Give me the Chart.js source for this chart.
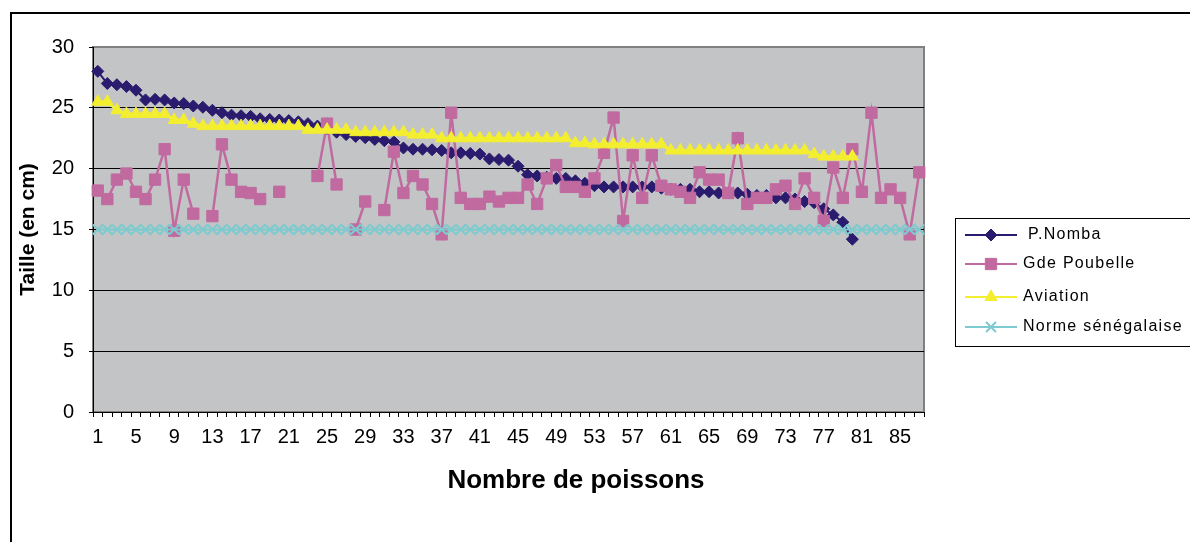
<!DOCTYPE html>
<html>
<head>
<meta charset="utf-8">
<script src="https://cdn.jsdelivr.net/npm/chart.js@4.4.1/dist/chart.umd.min.js"></script>
<style>
  html, body { margin: 0; padding: 0; background: #fff; }
  #wrap { width: 1190px; height: 542px; }
</style>
</head>
<body>
<div id="wrap"><canvas id="chart" width="1190" height="542"></canvas></div>
<script>
// categories: fish number 1..87
const categories = [
  '1','2','3','4','5','6','7','8','9','10','11','12','13','14','15','16','17','18','19','20',
  '21','22','23','24','25','26','27','28','29','30','31','32','33','34','35','36','37','38','39','40',
  '41','42','43','44','45','46','47','48','49','50','51','52','53','54','55','56','57','58','59','60',
  '61','62','63','64','65','66','67','68','69','70','71','72','73','74','75','76','77','78','79','80',
  '81','82','83','84','85','86','87'
];

const seriesLabels = ['P.Nomba', 'Gde Poubelle', 'Aviation', 'Norme sénégalaise'];
const xTitle = 'Nombre de poissons';
const yTitle = 'Taille (en cm)';

const nomba = [
  28.0, 27.0, 26.9, 26.75, 26.45, 25.65, 25.7, 25.65, 25.4, 25.35,
  25.15, 25.05, 24.8, 24.6, 24.4, 24.35, 24.3, 24.1, 24.05, 24.0,
  23.95, 23.85, 23.7, 23.5, 23.3, 23.0, 22.8, 22.65, 22.55, 22.4,
  22.3, 22.2, 21.7, 21.6, 21.6, 21.55, 21.5, 21.3, 21.3, 21.25,
  21.2, 20.8, 20.75, 20.7, 20.2, 19.5, 19.4, 19.3, 19.2, 19.2,
  19.0, 18.8, 18.6, 18.5, 18.5, 18.5, 18.5, 18.5, 18.5, 18.4,
  18.3, 18.3, 18.3, 18.1, 18.1, 18.0, 18.0, 18.0, 17.9, 17.8,
  17.8, 17.6, 17.6, 17.5, 17.3, 17.2, 16.7, 16.2, 15.6, 14.2
];

const poubelle = [
  18.2, 17.5, 19.1, 19.6, 18.1, 17.5, 19.1, 21.6, 14.9, 19.1,
  16.3, null, 16.1, 22.0, 19.1, 18.1, 18.0, 17.5, null, 18.1,
  null, null, null, 19.4, 23.7, 18.7, null, 15.0, 17.3, null,
  16.6, 21.4, 18.0, 19.4, 18.7, 17.1, 14.6, 24.6, 17.6, 17.1,
  17.1, 17.7, 17.3, 17.6, 17.6, 18.7, 17.1, 19.2, 20.3, 18.5,
  18.5, 18.1, 19.2, 21.3, 24.2, 15.7, 21.1, 17.6, 21.1, 18.6,
  18.3, 18.1, 17.6, 19.7, 19.1, 19.1, 18.0, 22.5, 17.1, 17.6,
  17.6, 18.3, 18.6, 17.1, 19.2, 17.6, 15.7, 20.1, 17.6, 21.6,
  18.1, 24.6, 17.6, 18.3, 17.6, 14.6, 19.7
];

const aviation = [
  25.5, 25.5, 24.8, 24.5, 24.5, 24.5, 24.5, 24.5, 24.0, 24.0,
  23.7, 23.5, 23.5, 23.5, 23.5, 23.5, 23.5, 23.5, 23.5, 23.5,
  23.5, 23.5, 23.2, 23.2, 23.2, 23.2, 23.2, 23.0, 23.0, 23.0,
  23.0, 23.0, 23.0, 22.8, 22.8, 22.8, 22.5, 22.5, 22.5, 22.5,
  22.5, 22.5, 22.5, 22.5, 22.5, 22.5, 22.5, 22.5, 22.5, 22.5,
  22.1, 22.1, 22.0, 22.0, 22.0, 22.0, 22.0, 22.0, 22.0, 22.0,
  21.5, 21.5, 21.5, 21.5, 21.5, 21.5, 21.5, 21.5, 21.5, 21.5,
  21.5, 21.5, 21.5, 21.5, 21.5, 21.2, 21.0, 21.0, 21.0, 21.0
];

const norme = [
  15, 15, 15, 15, 15, 15, 15, 15, 15, 15, 15, 15, 15, 15, 15, 15, 15, 15, 15, 15,
  15, 15, 15, 15, 15, 15, 15, 15, 15, 15, 15, 15, 15, 15, 15, 15, 15, 15, 15, 15,
  15, 15, 15, 15, 15, 15, 15, 15, 15, 15, 15, 15, 15, 15, 15, 15, 15, 15, 15, 15,
  15, 15, 15, 15, 15, 15, 15, 15, 15, 15, 15, 15, 15, 15, 15, 15, 15, 15, 15, 15,
  15, 15, 15, 15, 15, 15, 15
];

const yTicks = [0, 5, 10, 15, 20, 25, 30];

const colors = ['#2a1b6e', '#c06aa0', '#f3ee2f', '#7dcbce'];

Chart.defaults.font.family = '"Liberation Sans", Arial, sans-serif';
Chart.defaults.color = '#000';

// gray plot area + outer frame
const frame = {
  id: 'frame',
  beforeDraw(chart) {
    const { ctx, chartArea: a } = chart;
    ctx.save();
    ctx.fillStyle = '#fff';
    ctx.fillRect(0, 0, chart.width, chart.height);
    ctx.strokeStyle = '#000';
    ctx.lineWidth = 2;
    ctx.beginPath();
    ctx.moveTo(11, chart.height);
    ctx.lineTo(11, 13);
    ctx.lineTo(chart.width, 13);
    ctx.stroke();
    ctx.fillStyle = '#c3c4c6';
    ctx.fillRect(a.left, a.top, a.right - a.left, a.bottom - a.top);
    ctx.strokeStyle = '#808080';
    ctx.lineWidth = 2;
    ctx.strokeRect(a.left, a.top, a.right - a.left, a.bottom - a.top);
    ctx.restore();
  },
  // x title is centred on the whole chart in the original, not on the plot
  afterDraw(chart) {
    const { ctx } = chart;
    ctx.save();
    ctx.fillStyle = '#000';
    ctx.font = 'bold 26px "Liberation Sans", Arial, sans-serif';
    ctx.textAlign = 'center';
    ctx.textBaseline = 'middle';
    ctx.fillText(xTitle, 576, 481);
    ctx.restore();
  }
};

// boxed legend at the right, partly cut off like the original
const legendBox = {
  id: 'legendBox',
  afterDraw(chart) {
    const { ctx } = chart;
    const rows = [235, 264, 297, 327];
    ctx.save();
    ctx.fillStyle = '#fff';
    ctx.strokeStyle = '#000';
    ctx.lineWidth = 1;
    ctx.fillRect(955.5, 218.5, 260, 128);
    ctx.strokeRect(955.5, 218.5, 260, 128);
    chart.data.datasets.forEach((ds, i) => {
      const y = rows[i];
      ctx.strokeStyle = ds.borderColor;
      ctx.lineWidth = 2;
      ctx.beginPath();
      ctx.moveTo(965, y);
      ctx.lineTo(1017, y);
      ctx.stroke();
      ctx.fillStyle = ds.pointBackgroundColor;
      ctx.strokeStyle = ds.pointBorderColor;
      ctx.lineWidth = ds.pointBorderWidth;
      Chart.helpers.drawPoint(ctx, {
        pointStyle: ds.pointStyle, radius: ds.pointRadius,
        borderWidth: ds.pointBorderWidth, rotation: 0
      }, 991, y);
      ctx.fillStyle = '#000';
      ctx.font = '16px "Liberation Sans", Arial, sans-serif';
      ctx.letterSpacing = '1.3px';
      ctx.textBaseline = 'middle';
      ctx.textAlign = 'left';
      ctx.fillText(ds.label, i === 0 ? 1028 : 1023, y);
    });
    ctx.restore();
  }
};

function series(label, data, color, style, radius, width, pbw, order) {
  return {
    label, data,
    borderColor: color, backgroundColor: color,
    pointBackgroundColor: color, pointBorderColor: color,
    borderWidth: width, pointStyle: style, pointRadius: radius,
    pointBorderWidth: pbw, pointHoverRadius: radius,
    tension: 0, spanGaps: false, order
  };
}

new Chart(document.getElementById('chart'), {
  type: 'line',
  data: {
    labels: categories,
    datasets: [
      series(seriesLabels[0], nomba, colors[0], 'rectRot', 6, 2, 1, 3),
      series(seriesLabels[1], poubelle, colors[1], 'rect', 8, 2.5, 1, 2),
      series(seriesLabels[2], aviation, colors[2], 'triangle', 7, 3, 1, 1),
      series(seriesLabels[3], norme, colors[3], 'crossRot', 7, 2, 2, 0)
    ]
  },
  options: {
    responsive: false,
    animation: false,
    events: [],
    layout: { padding: { left: 10, top: 47, right: 266, bottom: 0 } },
    plugins: { legend: { display: false }, tooltip: { enabled: false } },
    scales: {
      x: {
        offset: true,
        ticks: {
          autoSkip: false, maxRotation: 0, minRotation: 0,
          font: { size: 20 }, padding: 8, color: '#000',
          callback: (v, i) => (i % 4 === 0 ? categories[i] : '')
        },
        grid: { offset: true, drawOnChartArea: false, tickLength: 5, color: '#000' },
        border: { color: '#000', width: 1 },
        title: { display: false },
        afterFit(scale) { scale.height = 130; }
      },
      y: {
        min: yTicks[0], max: yTicks[yTicks.length - 1],
        afterBuildTicks(scale) { scale.ticks = yTicks.map(v => ({ value: v })); },
        ticks: { font: { size: 20 }, padding: 15, color: '#000' },
        grid: {
          color: c => (c.tick && c.tick.value === 30 ? 'rgba(0,0,0,0)' : '#000'),
          tickColor: '#000', tickLength: 4, lineWidth: 1
        },
        border: { display: true, color: '#000', width: 1 },
        title: {
          display: true, text: yTitle, color: '#000',
          font: { size: 21, weight: 'bold' }, padding: { top: 6, bottom: 0 }
        },
        afterFit(scale) { scale.width = 83; }
      }
    }
  },
  plugins: [frame, legendBox]
});
</script>
</body>
</html>
